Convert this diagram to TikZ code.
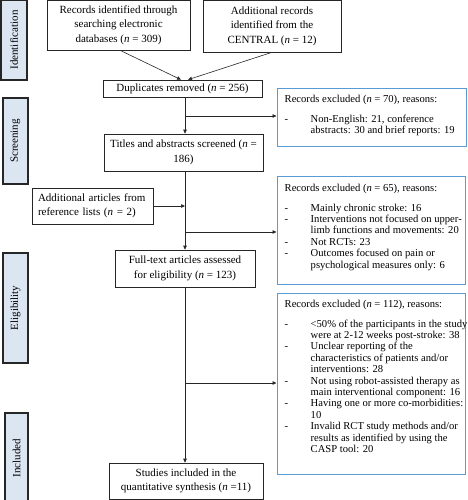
\documentclass[tikz,border=0pt]{standalone}
\usepackage{fontspec}
\setmainfont{Liberation Serif}
\usetikzlibrary{arrows.meta,calc}
\definecolor{sidefill}{RGB}{220,230,242}
\definecolor{exblue}{RGB}{91,155,213}
\newcommand\bul{\makebox[26pt][l]{-}}
\newcommand\cont{\hspace*{26pt}}
\tikzset{
  mainbox/.style={draw=black!85, line width=0.6pt, fill=white, align=center, inner sep=0pt, font=\fontsize{11}{14.5}\selectfont},
  sidebox/.style={draw=black!85, line width=1.3pt, fill=sidefill, inner sep=0pt, rotate=90, font=\fontsize{11}{13}\selectfont},
  exbox/.style={draw=exblue, line width=1pt, fill=white, inner sep=0pt},
  extext/.style={anchor=north west, align=left, inner sep=0pt, font=\fontsize{10.6}{11.4}\selectfont},
  arr/.style={-{Triangle[length=4pt,width=3.5pt]}, line width=0.6pt, draw=black!85},
}
\begin{document}
\begin{tikzpicture}[x=1pt,y=-1pt]
\useasboundingbox (0,0) rectangle (467,500);
% side labels
\node[sidebox, minimum width=80, minimum height=26] (sid) at (14,40) {Identification};
\node[sidebox, minimum width=86, minimum height=25] (sscr) at (15.5,141) {Screening};
\node[sidebox, minimum width=110, minimum height=25] (sel) at (15.5,308) {Eligibility};
\node[sidebox, minimum width=90, minimum height=23] (sinc) at (16.5,458) {Included};
% main boxes
\node[mainbox, minimum width=143, minimum height=50] (A) at (118.5,25) {Records identified through\\searching electronic\\databases (\textit{n} = 309)};
\node[mainbox, minimum width=138, minimum height=52] (B) at (272,26) {Additional records\\identified from the\\CENTRAL (\textit{n} = 12)};
\node[mainbox, minimum width=159, minimum height=17] (C) at (182.5,88.5) {Duplicates removed (\textit{n} = 256)};
\node[mainbox, minimum width=159, minimum height=37] (D) at (183.5,152.5) {Titles and abstracts screened (\textit{n} =\\186)};
\node[mainbox, align=left, text width=109, inner xsep=6, minimum height=36] (E) at (92.5,206) {Additional articles from\\reference lists (\textit{n} = 2)};
\node[mainbox, minimum width=140, minimum height=37] (F) at (185,268.5) {Full-text articles assessed\\for eligibility (\textit{n} = 123)};
\node[mainbox, minimum width=154, minimum height=36] (G) at (186,481) {Studies included in the\\quantitative synthesis (\textit{n} =11)};
% exclusion boxes
\node[exbox, minimum width=189, minimum height=57] (ex1) at (371.5,117.5) {};
\node[exbox, minimum width=188, minimum height=108] (ex2) at (371,230) {};
\node[exbox, minimum width=188, minimum height=181] (ex3) at (371,383.5) {};
\node[extext] (ex1t) at ([xshift=8,yshift=-6]ex1.north west) {Records excluded (\textit{n} = 70), reasons:\\[8.6pt]
\bul Non-English: 21, conference\\
\cont abstracts: 30 and brief reports: 19};
\node[extext] (ex2t) at ([xshift=8,yshift=-8]ex2.north west) {Records excluded (\textit{n} = 65), reasons:\\[8.6pt]
\bul Mainly chronic stroke: 16\\
\bul Interventions not focused on upper-\\
\cont limb functions and movements: 20\\
\bul Not RCTs: 23\\
\bul Outcomes focused on pain or\\
\cont psychological measures only: 6};
\node[extext] (ex3t) at ([xshift=8,yshift=-7]ex3.north west) {Records excluded (\textit{n} = 112), reasons:\\[8.6pt]
\bul <50\% of the participants in the study\\
\cont were at 2-12 weeks post-stroke: 38\\
\bul Unclear reporting of the\\
\cont characteristics of patients and/or\\
\cont interventions: 28\\
\bul Not using robot-assisted therapy as\\
\cont main interventional component: 16\\
\bul Having one or more co-morbidities:\\
\cont 10\\
\bul Invalid RCT study methods and/or\\
\cont results as identified by using the\\
\cont CASP tool: 20};
% connectors
\coordinate (mx) at (185,0);
\coordinate (b1) at (185,116);
\coordinate (b2) at (185,232);
\coordinate (b3) at (185,383);
\draw[arr] ([xshift=1.5]A.south) -- ([xshift=-1.5]C.north);
\draw[arr] (B.south) -- ([xshift=5.5]C.north);
\draw[arr] (C.south -| mx) -- (D.north -| mx);
\draw[arr] (b1) -- (b1 -| ex1.west);
\draw[arr] (D.south -| mx) -- (F.north -| mx);
\draw[arr] (E.east) -- (E.east -| mx);
\draw[arr] (b2) -- (b2 -| ex2.west);
\draw[arr] (F.south -| mx) -- (G.north -| mx);
\draw[arr] (b3) -- (b3 -| ex3.west);
\end{tikzpicture}
\end{document}
